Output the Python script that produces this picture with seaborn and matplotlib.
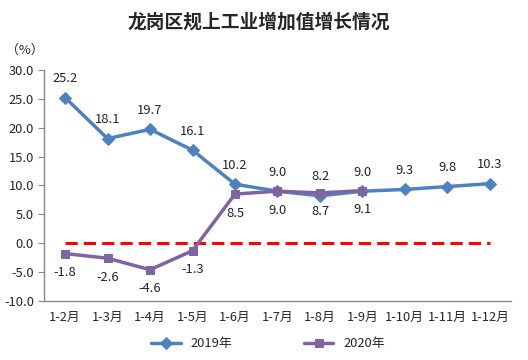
import pandas as pd
import matplotlib.pyplot as plt
import seaborn as sns

# Data
months = ["1-2月", "1-3月", "1-4月", "1-5月", "1-6月", "1-7月",
          "1-8月", "1-9月", "1-10月", "1-11月", "1-12月"]
growth_2019 = [25.2, 18.1, 19.7, 16.1, 10.2, 9.0, 8.2, 9.0, 9.3, 9.8, 10.3]
growth_2020 = [-1.8, -2.6, -4.6, -1.3, 8.5, 9.0, 8.7, 9.1]

df19 = pd.DataFrame({"pos": range(len(growth_2019)), "value": growth_2019})
df20 = pd.DataFrame({"pos": range(len(growth_2020)), "value": growth_2020})

sns.set_style("white")
plt.rcParams['font.family'] = ['Noto Sans CJK SC', 'DejaVu Sans']

blue = "#4F81BD"
purple = "#8064A2"
fs = 9.3

fig = plt.figure(figsize=(5.28, 3.6), dpi=100)
ax = fig.add_axes([0.083, 0.164, 0.885, 0.642])

sns.lineplot(data=df19, x="pos", y="value", ax=ax, color=blue, linewidth=2.5,
             marker="D", markersize=6, markeredgecolor=blue, label="2019年")
sns.lineplot(data=df20, x="pos", y="value", ax=ax, color=purple, linewidth=2.5,
             marker="s", markersize=6, markeredgecolor=purple, label="2020年")

# zero reference line
ax.plot([0, len(months) - 1], [0, 0], color="#FF0000", linestyle=(0, (4, 2)),
        linewidth=2.2, zorder=1)

# value labels
for i, v in enumerate(growth_2019):
    ax.annotate(f"{v:.1f}", (i, v), xytext=(0, 9), textcoords="offset points",
                ha="center", va="bottom", fontsize=fs, color="#222222")
for i, v in enumerate(growth_2020):
    ax.annotate(f"{v:.1f}", (i, v), xytext=(0, -9), textcoords="offset points",
                ha="center", va="top", fontsize=fs, color="#222222")

ax.set_xlim(-0.5, len(months) - 0.5)
ax.set_ylim(-10, 30)
ax.set_yticks(range(-10, 31, 5))
ax.set_yticklabels([f"{t:.1f}" for t in range(-10, 31, 5)], fontsize=fs)
ax.set_xticks(range(len(months)))
ax.set_xticklabels(months, fontsize=fs)
ax.set_xticks([i - 0.5 for i in range(len(months) + 1)], minor=True)
ax.tick_params(axis="x", which="major", length=0, pad=7)
ax.tick_params(axis="x", which="minor", length=4, color="#888888")
ax.tick_params(axis="y", length=4, color="#888888", direction="out", left=True, pad=3)
ax.set_xlabel("")
ax.set_ylabel("")

for side in ["top", "right"]:
    ax.spines[side].set_visible(False)
for side in ["left", "bottom"]:
    ax.spines[side].set_color("#888888")
    ax.spines[side].set_linewidth(1)

fig.text(0.49, 0.94, "龙岗区规上工业增加值增长情况", ha="center", va="center",
         fontsize=13.5, fontweight="bold")
fig.text(0.012, 0.86, "（%）", ha="left", va="center", fontsize=fs)

ax.legend(loc="center", bbox_to_anchor=(0.48, -0.186), ncol=2, frameon=False,
          fontsize=fs, columnspacing=5.5, handlelength=2.3)

plt.savefig("out.png", dpi=100)
